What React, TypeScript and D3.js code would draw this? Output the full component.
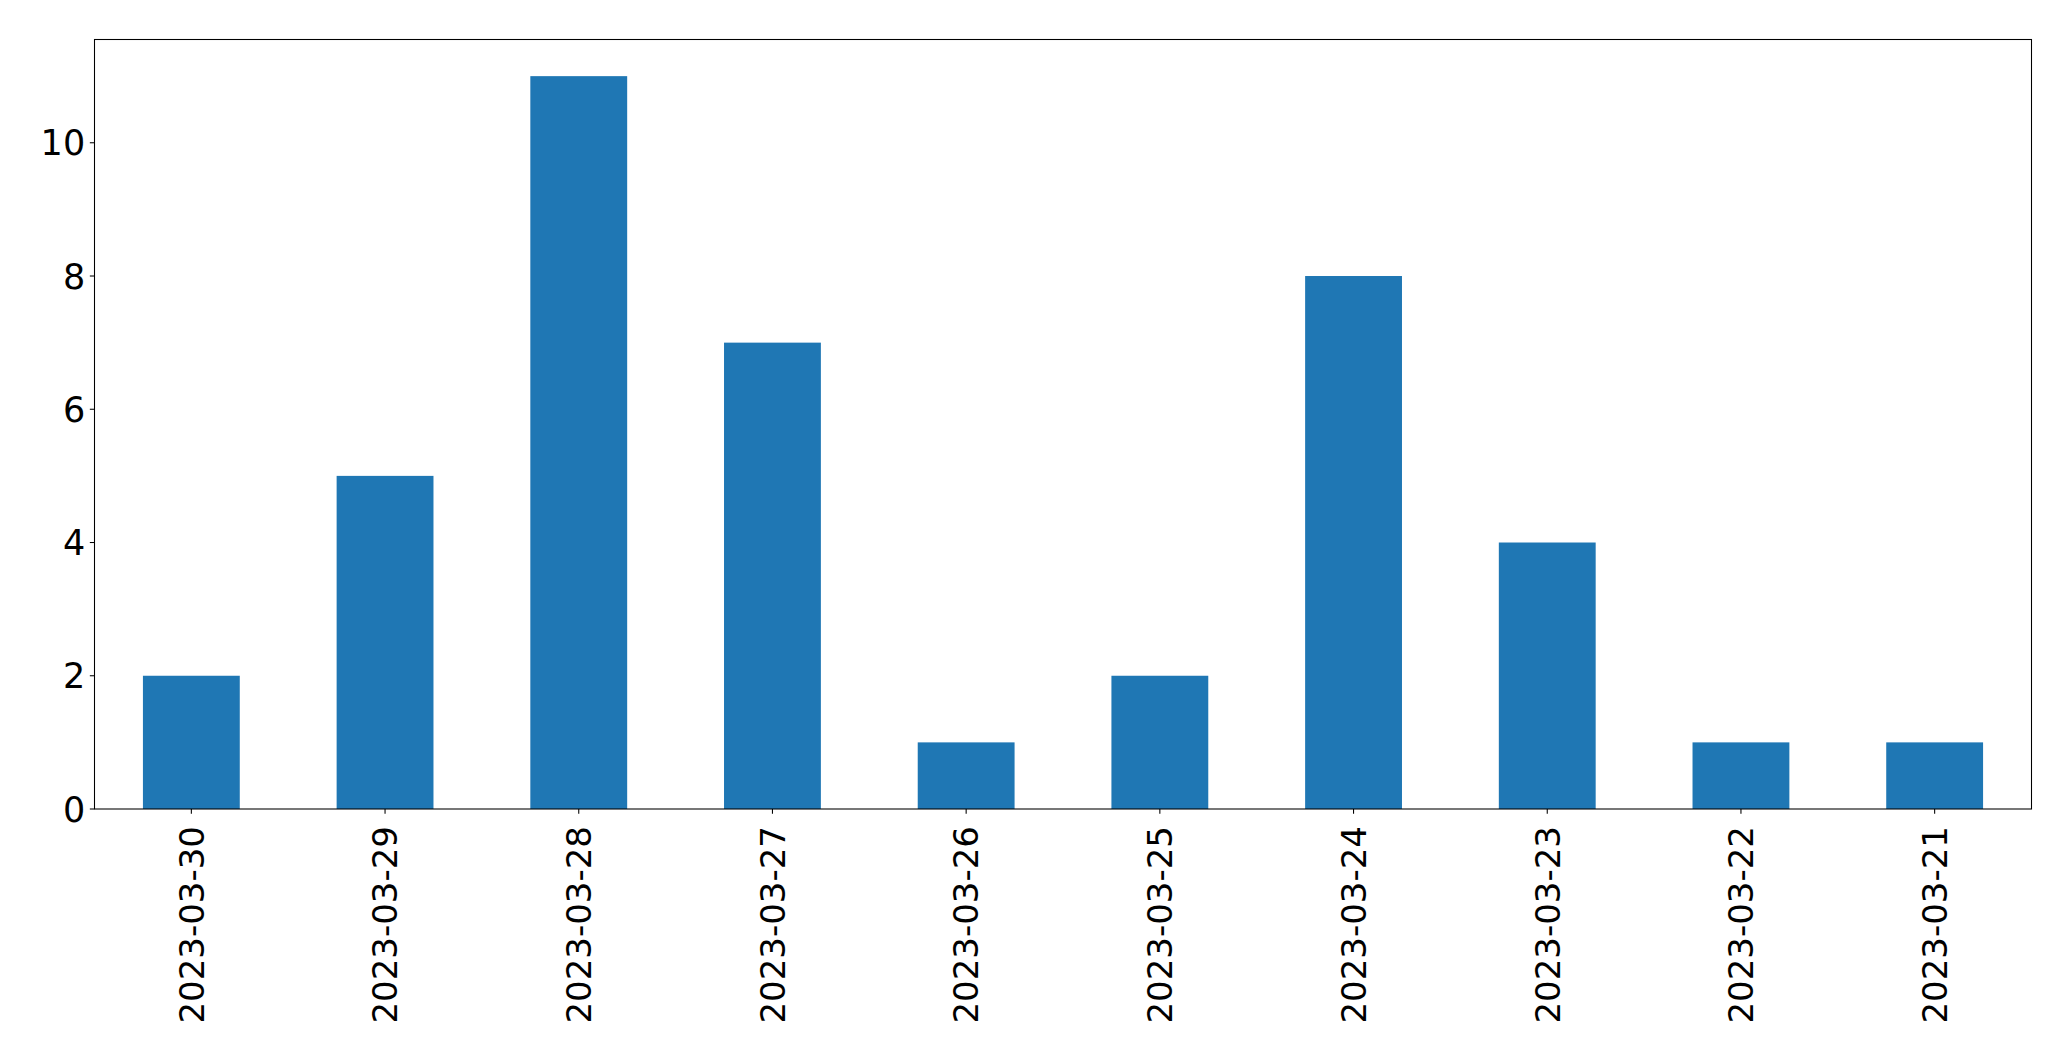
import React, { useEffect, useRef } from 'react'
import * as d3 from 'd3'

const dates = [
  '2023-03-30', '2023-03-29', '2023-03-28', '2023-03-27', '2023-03-26',
  '2023-03-25', '2023-03-24', '2023-03-23', '2023-03-22', '2023-03-21',
]
const counts = [2, 5, 11, 7, 1, 2, 8, 4, 1, 1]
const yTicks = [0, 2, 4, 6, 8, 10]

const W = 2071
const H = 1061
const margin = { top: 39.5, right: 39.5, bottom: 252, left: 94.5 }
const fontSize = 34
const font = 'DejaVu Sans, sans-serif'

export default function App() {
  const ref = useRef<SVGSVGElement | null>(null)

  useEffect(() => {
    if (!ref.current) return
    const svg = d3.select(ref.current)
    svg.selectAll('*').remove()

    const x0 = margin.left
    const x1 = W - margin.right
    const y0 = H - margin.bottom
    const y1 = margin.top

    const x = d3.scaleBand<string>().domain(dates).range([x0, x1]).paddingInner(0.5).paddingOuter(0.25)
    const y = d3.scaleLinear().domain([0, d3.max(counts)! * 1.05]).range([y0, y1])

    svg.append('rect').attr('width', W).attr('height', H).attr('fill', '#fff')

    svg
      .append('g')
      .selectAll('rect')
      .data(counts)
      .join('rect')
      .attr('x', (_, i) => x(dates[i])!)
      .attr('width', x.bandwidth())
      .attr('y', (d) => y(d))
      .attr('height', (d) => y0 - y(d))
      .attr('fill', '#1f77b4')

    // frame
    svg
      .append('rect')
      .attr('x', x0)
      .attr('y', y1)
      .attr('width', x1 - x0)
      .attr('height', y0 - y1)
      .attr('fill', 'none')
      .attr('stroke', '#000')
      .attr('stroke-width', 1.07)

    const tick = 4.67
    const pad = 4.67

    const yg = svg.append('g')
    yTicks.forEach((t) => {
      yg.append('line')
        .attr('x1', x0 - tick).attr('x2', x0)
        .attr('y1', y(t)).attr('y2', y(t))
        .attr('stroke', '#000').attr('stroke-width', 1.07)
      yg.append('text')
        .attr('x', x0 - tick - pad)
        .attr('y', y(t))
        .attr('dy', '0.36em')
        .attr('text-anchor', 'end')
        .attr('font-family', font)
        .attr('font-size', 35)
        .text(String(t))
    })

    const xg = svg.append('g')
    dates.forEach((d) => {
      const cx = x(d)! + x.bandwidth() / 2
      xg.append('line')
        .attr('x1', cx).attr('x2', cx)
        .attr('y1', y0).attr('y2', y0 + tick)
        .attr('stroke', '#000').attr('stroke-width', 1.07)
      xg.append('text')
        .attr('transform', `translate(${cx},${y0 + 17}) rotate(-90)`)
        .attr('dy', '0.36em')
        .attr('text-anchor', 'end')
        .attr('font-family', font)
        .attr('font-size', fontSize)
        .text(d)
    })
  }, [])

  return (
    <svg
      ref={ref}
      width={W}
      height={H}
      style={{ position: 'absolute', left: 0, top: 0, display: 'block' }}
    />
  )
}
